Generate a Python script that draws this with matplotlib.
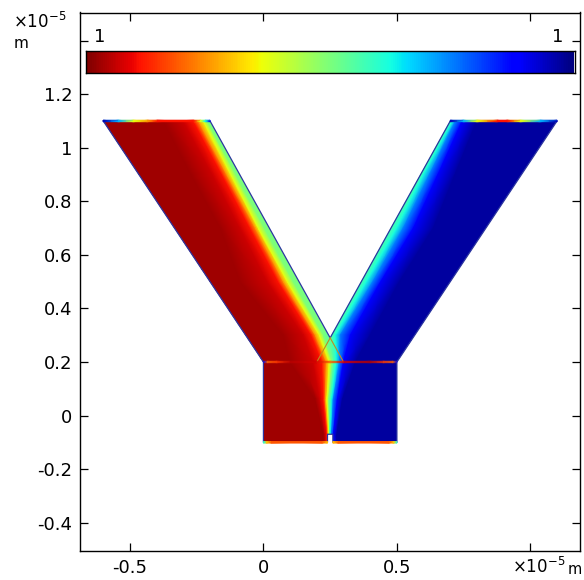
import numpy as np
import matplotlib
matplotlib.use('Agg')
import matplotlib.pyplot as plt
from matplotlib.patches import Polygon

# outline of the Y channel, units of 1e-5 m
outline_x = [-0.6, -0.2, 0.25, 0.7, 1.1, 0.5, 0.5, 0.26, 0.26, 0.24, 0.24, 0.0, 0.0]
outline_y = [1.1, 1.1, 0.29, 1.1, 1.1, 0.2, -0.1, -0.1, -0.07, -0.07, -0.1, -0.1, 0.2]

# colour levels (position on the jet scale) and where each level sits on each row
levels = [0.97, 0.97, 0.93, 0.89, 0.75, 0.63, 0.5, 0.44, 0.38, 0.25, 0.11, 0.03, 0.03]
row_y = [1.1, 0.9, 0.7, 0.5, 0.3, 0.2, 0.06, -0.07, -0.1]
row_x = [
    [-0.7, -0.374, -0.30, -0.262, -0.243, -0.225, -0.21, 0.70, 0.708, 0.72, 0.745, 0.80, 1.2],
    [-0.7, -0.27, -0.19, -0.155, -0.137, -0.122, -0.103, 0.589, 0.60, 0.622, 0.654, 0.718, 1.2],
    [-0.7, -0.16, -0.087, -0.05, -0.03, -0.019, 0.004, 0.478, 0.50, 0.524, 0.562, 0.637, 1.2],
    [-0.7, -0.086, 0.015, 0.056, 0.075, 0.09, 0.112, 0.367, 0.386, 0.41, 0.44, 0.51, 1.2],
    [-0.7, 0.075, 0.15, 0.18, 0.195, 0.21, 0.225, 0.256, 0.27, 0.288, 0.326, 0.40, 1.2],
    [-0.7, 0.10, 0.187, 0.22, 0.236, 0.247, 0.258, 0.265, 0.273, 0.285, 0.30, 0.345, 1.2],
    [-0.7, 0.195, 0.212, 0.225, 0.232, 0.238, 0.245, 0.25, 0.255, 0.262, 0.277, 0.296, 1.2],
    [-0.7, 0.225, 0.232, 0.238, 0.242, 0.245, 0.248, 0.249, 0.25, 0.255, 0.262, 0.275, 1.2],
    [-0.7, 0.225, 0.232, 0.238, 0.242, 0.245, 0.248, 0.249, 0.25, 0.255, 0.262, 0.275, 1.2],
]

# colours along the horizontal boundaries
top_left_x = [-0.6, -0.543, -0.487, -0.434, -0.397, -0.262, -0.236, -0.217, -0.2]
top_left_v = [0.05, 0.3, 0.63, 0.75, 0.89, 0.89, 0.63, 0.38, 0.1]
top_right_x = [0.7, 0.75, 0.8, 0.876, 0.914, 0.963, 1.037, 1.1]
top_right_v = [0.05, 0.3, 0.63, 0.89, 0.89, 0.63, 0.3, 0.05]
inner_x = [0.0, 0.015, 0.05, 0.1, 0.2, 0.25, 0.3, 0.4, 0.45, 0.485, 0.5]
inner_v = [0.1, 0.8, 0.85, 0.95, 0.92, 0.8, 0.92, 0.95, 0.85, 0.8, 0.1]
bottom_left_x = [0.0, 0.012, 0.03, 0.22, 0.24]
bottom_left_v = [0.38, 0.7, 0.82, 0.82, 0.7]
bottom_right_x = [0.26, 0.28, 0.47, 0.488, 0.5]
bottom_right_v = [0.7, 0.82, 0.82, 0.7, 0.38]

x_ticks = [-0.5, 0, 0.5, 1]
x_labels = ['-0.5', '0', '0.5', '']
y_ticks = [-0.4, -0.2, 0, 0.2, 0.4, 0.6, 0.8, 1, 1.2, 1.4]
y_labels = ['-0.4', '-0.2', '0', '0.2', '0.4', '0.6', '0.8', '1', '1.2', '']

EDGE = '#2b35a0'


def edge_strip(ax, xs, vs, y, half=0.0028, alpha=1.0):
    # thin gradient band along a horizontal boundary
    X = np.array([xs, xs])
    Y = np.array([[y - half] * len(xs), [y + half] * len(xs)])
    C = np.array([vs, vs])
    ax.pcolormesh(X, Y, C, shading='gouraud', cmap='jet', vmin=0, vmax=1, alpha=alpha, zorder=4)


fig = plt.figure(figsize=(5.84, 5.8), dpi=100)
ax = fig.add_axes([79.5 / 584, 29.5 / 580, 500 / 584, 538 / 580])

# concentration field, clipped to the channel
X = np.array(row_x)
Y = np.array([[y] * len(levels) for y in row_y])
C = np.array([levels] * len(row_y))
mesh = ax.pcolormesh(X, Y, C, shading='gouraud', cmap='jet', vmin=0, vmax=1, zorder=2)
channel = Polygon(np.column_stack([outline_x, outline_y]), closed=True, transform=ax.transData)
mesh.set_clip_path(channel)

# boundary lines
ax.plot(outline_x + outline_x[:1], outline_y + outline_y[:1], color=EDGE, lw=0.9, zorder=3)
edge_strip(ax, top_left_x, top_left_v, 1.1)
edge_strip(ax, top_right_x, top_right_v, 1.1)
edge_strip(ax, inner_x, inner_v, 0.2, alpha=0.6)
edge_strip(ax, bottom_left_x, bottom_left_v, -0.1)
edge_strip(ax, bottom_right_x, bottom_right_v, -0.1)

# interior lines below the fork
ax.plot([0.25, 0.2], [0.29, 0.2], color='#c08a20', lw=0.8, zorder=3)
ax.plot([0.25, 0.3], [0.29, 0.2], color='#c08a20', lw=0.8, zorder=3)

ax.set_xlim(-0.689, 1.184)
ax.set_ylim(-0.504, 1.505)
ax.set_xticks(x_ticks)
ax.set_xticklabels(x_labels)
ax.set_yticks(y_ticks)
ax.set_yticklabels(y_labels)
ax.tick_params(direction='in', length=6, width=0.9, top=True, right=True, labelsize=13, pad=5)
ax.tick_params(axis='x', pad=6)
for s in ax.spines.values():
    s.set_linewidth(1.0)

# colour legend inside the axes
cax = ax.inset_axes([7 / 500, 477 / 538, 488 / 500, 23 / 538])
cax.imshow(np.linspace(1, 0, 512)[None, :], cmap='jet', vmin=0, vmax=1, aspect='auto',
           interpolation='nearest')
cax.set_xticks([])
cax.set_yticks([])
for s in cax.spines.values():
    s.set_linewidth(1.0)
fig.text(100 / 584, 1 - 37 / 580, '1', fontsize=13, ha='center', va='center')
fig.text(558 / 584, 1 - 37 / 580, '1', fontsize=13, ha='center', va='center')

# axis units
fig.text(13 / 584, 1 - 22 / 580, r'$\times\mathregular{10^{-5}}$', fontsize=12, ha='left', va='center')
fig.text(14 / 584, 1 - 44 / 580, 'm', fontsize=11, ha='left', va='center')
fig.text(512 / 584, 1 - 567 / 580, r'$\times\mathregular{10^{-5}}$', fontsize=12, ha='left', va='center')
fig.text(568 / 584, 1 - 570 / 580, 'm', fontsize=10.5, ha='left', va='center')

plt.savefig('out.png', dpi=100)
